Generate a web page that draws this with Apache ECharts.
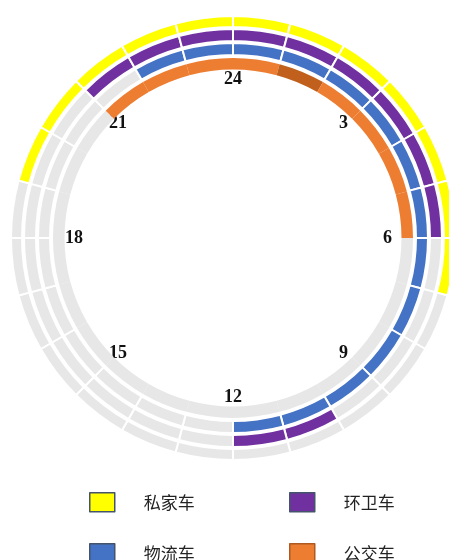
<!DOCTYPE html>
<html>
<head>
<meta charset="utf-8">
<script src="https://cdn.jsdelivr.net/npm/echarts@6/dist/echarts.min.js"></script>
<style>
  html, body { margin: 0; padding: 0; background: #ffffff; }
  #chart { width: 449px; height: 560px; }
</style>
</head>
<body>
<div id="chart"></div>
<script>
// Hour slots of the 24-hour dial (slot 0 starts at 24:00, at the top)
const hours = ['0','1','2','3','4','5','6','7','8','9','10','11',
               '12','13','14','15','16','17','18','19','20','21','22','23'];

// Clock labels shown every three hours
const clockLabels = ['24','3','6','9','12','15','18','21'];

// Activity per hour: 1 = active, 0 = idle, 2 = peak hour
const privateCar  = [1,1,1,1,1,1,1,0,0,0,0,0,0,0,0,0,0,0,0,1,1,1,1,1];
const sanitation  = [1,1,1,1,1,1,0,0,0,0,1,1,0,0,0,0,0,0,0,0,0,1,1,1];
const logistics   = [1,1,1,1,1,1,1,1,1,1,1,1,0,0,0,0,0,0,0,0,0,0,1,1];
const bus         = [1,2,1,1,1,1,0,0,0,0,0,0,0,0,0,0,0,0,0,0,0,1,1,1];

const seriesNames = ['私家车', '环卫车', '物流车', '公交车'];

const IDLE = '#e7e7e7';
const CENTER = [233, 238];

function ringData(status, color, peakColor) {
  return hours.map(function (h, i) {
    const s = status[i];
    return {
      name: h,
      value: 1,
      itemStyle: { color: s === 0 ? IDLE : (s === 2 ? peakColor : color) }
    };
  });
}

function ring(name, status, color, peakColor, radius, gap) {
  return {
    type: 'pie',
    name: name,
    center: CENTER,
    radius: radius,
    startAngle: 90,
    clockwise: true,
    silent: true,
    label: { show: false },
    labelLine: { show: false },
    emphasis: { disabled: true },
    itemStyle: { color: color, borderColor: '#ffffff', borderWidth: gap },
    data: ringData(status, color, peakColor || color)
  };
}

const legendText = {
  fontFamily: 'Noto Sans CJK SC',
  fontSize: 17,
  color: '#222222',
  padding: [0, 0, 0, 24]
};

function legendAt(left, top, name, border) {
  return {
    left: left,
    top: top,
    padding: 0,
    itemWidth: 25,
    itemHeight: 19,
    selectedMode: false,
    icon: 'rect',
    textStyle: legendText,
    data: [{ name: name, itemStyle: { borderColor: border, borderWidth: 1.5 } }]
  };
}

const chart = echarts.init(document.getElementById('chart'), null, { renderer: 'canvas' });

chart.setOption({
  animation: false,
  backgroundColor: '#ffffff',
  polar: { center: CENTER, radius: 169 },
  angleAxis: {
    type: 'value',
    min: 0,
    max: 24,
    interval: 3,
    startAngle: 90,
    clockwise: true,
    axisLine: { show: false },
    axisTick: { show: false },
    splitLine: { show: false },
    axisLabel: {
      margin: -19,
      fontFamily: 'Liberation Serif',
      fontSize: 18,
      fontWeight: 'bold',
      color: '#111111',
      formatter: function (v) { return clockLabels[Math.round(v / 3)] || ''; }
    }
  },
  radiusAxis: { type: 'value', show: false, min: 0, max: 1 },
  legend: [
    legendAt(89, 492, seriesNames[0], '#44546a'),
    legendAt(289, 492, seriesNames[1], '#44546a'),
    legendAt(89, 543, seriesNames[2], '#44546a'),
    legendAt(289, 543, seriesNames[3], '#ae5a21')
  ],
  series: [
    ring(seriesNames[3], bus, '#ed7d31', '#c0601c', [168.5, 180], 0),
    ring(seriesNames[2], logistics, '#4472c4', null, [183, 195], 2),
    ring(seriesNames[1], sanitation, '#7030a0', null, [197, 209], 2),
    ring(seriesNames[0], privateCar, '#ffff00', null, [211, 222], 2)
  ]
});
</script>
</body>
</html>
